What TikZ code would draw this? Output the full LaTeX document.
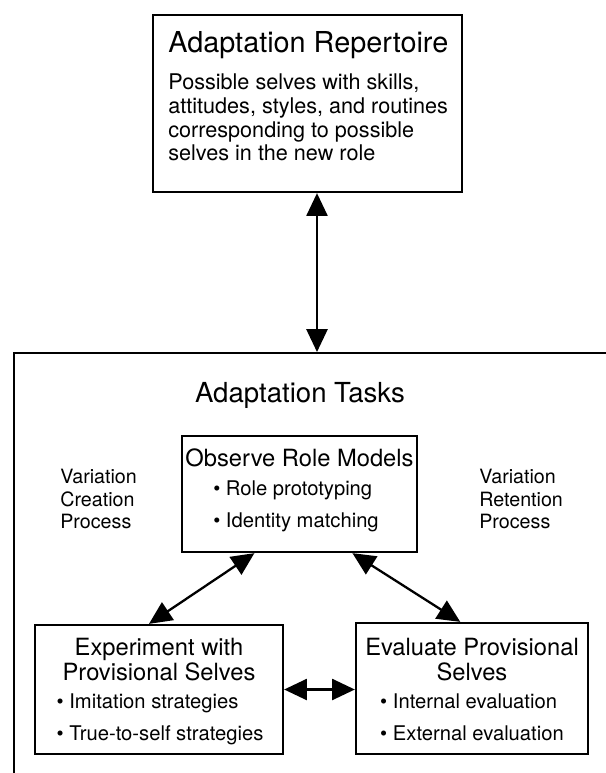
\documentclass[tikz,border=0pt]{standalone}
\usepackage{fontspec}
\setmainfont{TeX Gyre Heros}
\usetikzlibrary{arrows.meta,calc,positioning}

\begin{document}
\begin{tikzpicture}[
    >={Triangle[length=13pt,width=12pt]},
    box/.style={draw, line width=1.3pt, inner sep=0pt},
    frame/.style={draw, line width=1.3pt, inner sep=0pt, anchor=north west},
    link/.style={<->, line width=1.3pt},
    toptitle/.style={font=\fontsize{16.4}{19}\selectfont, anchor=west, inner sep=0pt},
    toptext/.style={font=\fontsize{12.3}{13.5}\selectfont, align=left, anchor=west, inner sep=0pt},
    tasktitle/.style={font=\fontsize{15.7}{18}\selectfont, inner sep=0pt},
    boxtitle/.style={font=\fontsize{13.5}{14.2}\selectfont, align=center, inner sep=0pt},
    bullets/.style={font=\fontsize{11.5}{18.2}\selectfont, align=left, inner sep=0pt},
    side/.style={font=\fontsize{11.2}{12.8}\selectfont, align=left, anchor=west, inner sep=0pt}
]

% Page and clipping
\useasboundingbox (0,0) rectangle (12.12,-15.46);
\clip (0,0) rectangle (12.12,-15.46);

% Adaptation repertoire
\node[box, minimum width=6.18cm, minimum height=3.54cm] (repertoire) at (6.15,-2.07) {};
\node[toptitle] (reptitle) at (3.36,-0.9) {Adaptation Repertoire};
\node[toptext] (reptext) at (3.36,-2.35)
    {Possible selves with skills,\\attitudes, styles, and routines\\corresponding to possible\\selves in the new role};

% Adaptation tasks frame
\node[frame, minimum width=13cm, minimum height=9cm] (tasks) at (0.26,-7.04) {};
\node[tasktitle] (taskstitle) at (6.0,-7.9) {Adaptation Tasks};

\coordinate (arrowx) at (6.34,0);
\draw[link] (repertoire.south -| arrowx) -- (tasks.north -| arrowx);

% Side labels
\node[side] (creation) at (1.2,-9.98) {Variation\\Creation\\Process};
\node[side] (retention) at (9.58,-9.98) {Variation\\Retention\\Process};

% Observe role models
\node[box, minimum width=4.70cm, minimum height=2.32cm] (observe) at (5.99,-9.88) {};
\node[boxtitle] (observetitle) at (5.99,-9.16) {Observe Role Models};
\node[bullets] (observelist) at (5.92,-10.12)
    {\textbullet\ Role prototyping\\\textbullet\ Identity matching};

% Experiment with provisional selves
\node[box, minimum width=4.96cm, minimum height=2.58cm] (experiment) at (3.18,-13.79) {};
\node[boxtitle] (experimenttitle) at (3.18,-13.19) {Experiment with\\Provisional Selves};
\node[bullets] (experimentlist) at (3.2,-14.38)
    {\textbullet\ Imitation strategies\\\textbullet\ True-to-self strategies};

% Evaluate provisional selves
\node[box, minimum width=4.64cm, minimum height=2.62cm] (evaluate) at (9.44,-13.77) {};
\node[boxtitle] (evaluatetitle) at (9.44,-13.19) {Evaluate Provisional\\Selves};
\node[bullets] (evaluatelist) at (9.44,-14.34)
    {\textbullet\ Internal evaluation\\\textbullet\ External evaluation};

% Links between tasks
\draw[link] ($(observe.south west)!0.31!(observe.south east)$)
    -- ($(experiment.north west)!0.46!(experiment.north east)$);
\draw[link] ($(observe.south west)!0.723!(observe.south east)$)
    -- ($(evaluate.north west)!0.45!(evaluate.north east)$);
\draw[link] (experiment.east) -- (evaluate.west |- experiment.east);

\end{tikzpicture}
\end{document}
